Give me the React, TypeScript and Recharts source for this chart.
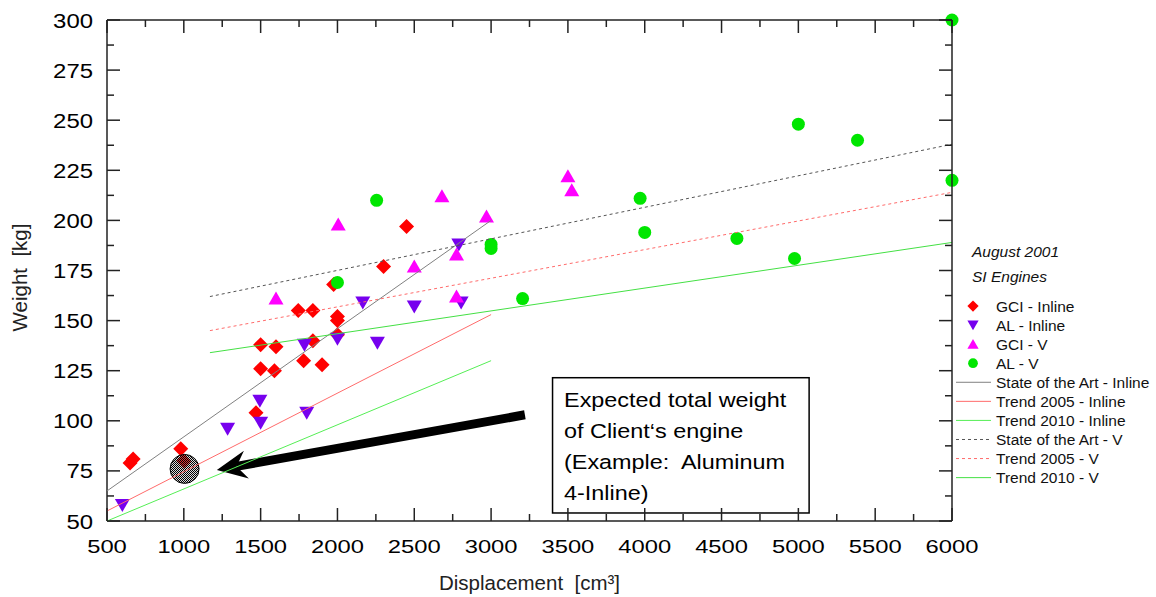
import { ScatterChart, Scatter, XAxis, YAxis, ReferenceArea, ReferenceLine, Legend, Label } from "recharts"

// displacement [cm³] -> weight [kg], SI engines, August 2001
const gciInline = [
  { x: 650, y: 79 }, { x: 670, y: 81 }, { x: 980, y: 86 }, { x: 1000, y: 80 },
  { x: 1470, y: 104 }, { x: 1500, y: 138 }, { x: 1600, y: 137 }, { x: 1500, y: 126 },
  { x: 1590, y: 125 }, { x: 1745, y: 155 }, { x: 1840, y: 155 }, { x: 1780, y: 130 },
  { x: 1840, y: 140 }, { x: 1900, y: 128 }, { x: 1975, y: 168 }, { x: 2000, y: 152 },
  { x: 2000, y: 150 }, { x: 2000, y: 143 }, { x: 2300, y: 177 }, { x: 2450, y: 197 },
]
const alInline = [
  { x: 600, y: 58 }, { x: 1285, y: 96 }, { x: 1495, y: 110 }, { x: 1500, y: 99 },
  { x: 1785, y: 138 }, { x: 1800, y: 104 }, { x: 2000, y: 141 }, { x: 2165, y: 159 },
  { x: 2260, y: 139 }, { x: 2500, y: 157 }, { x: 2790, y: 188 }, { x: 2805, y: 159 },
]
const gciV = [
  { x: 1600, y: 161 }, { x: 2005, y: 198 }, { x: 2500, y: 177 }, { x: 2680, y: 212 },
  { x: 2775, y: 183 }, { x: 2775, y: 162 }, { x: 2970, y: 202 }, { x: 3500, y: 222 },
  { x: 3525, y: 215 },
]
const alV = [
  { x: 2000, y: 169 }, { x: 2255, y: 210 }, { x: 3000, y: 188 }, { x: 3000, y: 186 },
  { x: 3205, y: 161 }, { x: 3970, y: 211 }, { x: 4000, y: 194 }, { x: 4600, y: 191 },
  { x: 4975, y: 181 }, { x: 5000, y: 248 }, { x: 5385, y: 240 }, { x: 6000, y: 300 },
  { x: 6000, y: 220 },
]
const expectedEngine = [{ x: 1005, y: 76 }]

// trend lines
const sotaInline = [{ x: 500, y: 65 }, { x: 3000, y: 200 }]
const trend2005Inline = [{ x: 500, y: 55 }, { x: 3000, y: 153 }]
const trend2010Inline = [{ x: 500, y: 50 }, { x: 3000, y: 130 }]
const sotaV = [{ x: 1170, y: 162 }, { x: 6000, y: 238 }]
const trend2005V = [{ x: 1170, y: 145 }, { x: 6000, y: 214 }]
const trend2010V = [{ x: 1170, y: 134 }, { x: 6000, y: 189 }]

// annotation
const arrowSegment = [{ x: 3220, y: 103 }, { x: 1215, y: 75.5 }]
const noteBox = { x1: 3400, x2: 5070, y1: 54, y2: 121.5 }
const noteLines = ["Expected total weight", "of Client\u2018s engine", "(Example:  Aluminum", "4-Inline)"]

const X_MIN = 500
const X_MAX = 6000
const Y_MIN = 50
const Y_MAX = 300
const xMajor = [500, 1000, 1500, 2000, 2500, 3000, 3500, 4000, 4500, 5000, 5500, 6000]
const yMajor = [50, 75, 100, 125, 150, 175, 200, 225, 250, 275, 300]
const xTicks = xMajor.flatMap((v, i) => (i ? [v - 250, v] : [v]))
const yTicks = yMajor.flatMap((v, i) => (i ? [v - 12.5, v] : [v]))

const AXIS = "#222"
const CHART_W = 1156
const CHART_H = 597
const MARGIN = { top: 20, right: 204, bottom: 0, left: 0 }
const Y_AXIS_W = 107
const X_AXIS_H = 76
const PLOT = {
  left: MARGIN.left + Y_AXIS_W,
  right: CHART_W - MARGIN.right,
  top: MARGIN.top,
  bottom: CHART_H - MARGIN.bottom - X_AXIS_H,
}

const pointSeries = [
  { name: "GCI - Inline", data: gciInline, color: "#ff0000", shape: "diamond" },
  { name: "AL - Inline", data: alInline, color: "#7700ee", shape: "down" },
  { name: "GCI - V", data: gciV, color: "#ff00ff", shape: "up" },
  { name: "AL - V", data: alV, color: "#00e600", shape: "circle" },
]
const lineSeries = [
  { name: "State of the Art - Inline", data: sotaInline, color: "#808080", dash: undefined },
  { name: "Trend 2005 - Inline", data: trend2005Inline, color: "#ff6b6b", dash: undefined },
  { name: "Trend 2010 - Inline", data: trend2010Inline, color: "#55ee55", dash: undefined },
  { name: "State of the Art - V", data: sotaV, color: "#555", dash: "3 3" },
  { name: "Trend 2005 - V", data: trend2005V, color: "#ff6b6b", dash: "3 3" },
  { name: "Trend 2010 - V", data: trend2010V, color: "#44e044", dash: undefined },
]

function marker(shape, cx, cy, fill, k = 1) {
  if (shape === "diamond") {
    const r = 7.5 * k
    return <polygon points={`${cx},${cy - r} ${cx + r},${cy} ${cx},${cy + r} ${cx - r},${cy}`} fill={fill} />
  }
  if (shape === "down") {
    return <polygon points={`${cx - 7.5 * k},${cy - 6 * k} ${cx + 7.5 * k},${cy - 6 * k} ${cx},${cy + 7 * k}`} fill={fill} />
  }
  if (shape === "up") {
    return <polygon points={`${cx},${cy - 7 * k} ${cx + 7.5 * k},${cy + 6 * k} ${cx - 7.5 * k},${cy + 6 * k}`} fill={fill} />
  }
  return <circle cx={cx} cy={cy} r={6.5 * k} fill={fill} />
}

const ExpectedMarker = ({ cx, cy }) => (
  <g>
    <defs>
      <pattern id="dither" width="2" height="2" patternUnits="userSpaceOnUse">
        <rect width="2" height="2" fill="#9a9a9a" fillOpacity={0.35} />
        <rect width="1" height="1" fill="#000" />
        <rect x="1" y="1" width="1" height="1" fill="#000" />
      </pattern>
    </defs>
    <circle cx={cx} cy={cy} r={14.5} fill="url(#dither)" stroke="#000" strokeWidth={1} />
  </g>
)

const BottomTick = ({ x, y, payload }) => {
  const major = payload.value % 500 === 0
  return (
    <g>
      <line x1={x} y1={y} x2={x} y2={y - (major ? 13 : 7)} stroke={AXIS} strokeWidth={1.5} />
      {major && (
        <text transform={`translate(${x} ${y + 32}) scale(1.25 1)`} textAnchor="middle" fontSize={19} fill="#000">
          {payload.value}
        </text>
      )}
    </g>
  )
}
const LeftTick = ({ x, y, payload }) => {
  const major = payload.value % 25 === 0
  return (
    <g>
      <line x1={x} y1={y} x2={x + (major ? 13 : 7)} y2={y} stroke={AXIS} strokeWidth={1.5} />
      {major && (
        <text transform={`translate(${x - 14} ${y + 7.5}) scale(1.14 1)`} textAnchor="end" fontSize={21} fill="#000">
          {payload.value}
        </text>
      )}
    </g>
  )
}

// top and right edges of the frame, with inward ticks, laid over the chart
const FrameOverlay = () => {
  const w = PLOT.right - PLOT.left
  const h = PLOT.bottom - PLOT.top
  return (
    <svg width={CHART_W} height={CHART_H} style={{ position: "absolute", left: 0, top: 0, pointerEvents: "none" }}>
      <line x1={PLOT.left} y1={PLOT.top} x2={PLOT.right} y2={PLOT.top} stroke={AXIS} strokeWidth={1.5} />
      <line x1={PLOT.right} y1={PLOT.top} x2={PLOT.right} y2={PLOT.bottom} stroke={AXIS} strokeWidth={1.5} />
      {xTicks.map((v) => {
        const tx = PLOT.left + ((v - X_MIN) / (X_MAX - X_MIN)) * w
        return <line key={`t${v}`} x1={tx} y1={PLOT.top} x2={tx} y2={PLOT.top + (v % 500 === 0 ? 13 : 7)} stroke={AXIS} strokeWidth={1.5} />
      })}
      {yTicks.map((v) => {
        const ty = PLOT.top + ((Y_MAX - v) / (Y_MAX - Y_MIN)) * h
        return <line key={`r${v}`} x1={PLOT.right} y1={ty} x2={PLOT.right - (v % 25 === 0 ? 13 : 7)} y2={ty} stroke={AXIS} strokeWidth={1.5} />
      })}
    </svg>
  )
}

const XTitle = ({ viewBox }) => (
  <text x={viewBox.x + viewBox.width / 2} y={viewBox.y + 69} textAnchor="middle" fontSize={20.5} fill="#222" style={{ whiteSpace: "pre" }}>
    {"Displacement  [cm³]"}
  </text>
)
const YTitle = ({ viewBox }) => {
  const cx = viewBox.x + 27
  const cy = viewBox.y + viewBox.height / 2 + 7
  return (
    <text x={cx} y={cy} transform={`rotate(-90 ${cx} ${cy})`} textAnchor="middle" fontSize={20.5} fill="#222" style={{ whiteSpace: "pre" }}>
      {"Weight  [kg]"}
    </text>
  )
}

const Arrow = ({ x1, y1, x2, y2 }) => {
  const len = Math.hypot(x2 - x1, y2 - y1)
  const ux = (x2 - x1) / len
  const uy = (y2 - y1) / len
  const nx = -uy
  const ny = ux
  const bx = x2 - ux * 30
  const by = y2 - uy * 30
  const mx = x2 - ux * 20
  const my = y2 - uy * 20
  return (
    <g>
      <line x1={x1} y1={y1} x2={mx} y2={my} stroke="#000" strokeWidth={9} />
      <polygon
        points={`${x2},${y2} ${bx + nx * 14},${by + ny * 14} ${mx},${my} ${bx - nx * 14},${by - ny * 14}`}
        fill="#000"
      />
    </g>
  )
}

const NoteBox = ({ x, y, width, height }) => (
  <g>
    <rect x={x} y={y} width={width} height={height} fill="none" stroke="#000" strokeWidth={1.5} />
    {noteLines.map((line, i) => (
      <text
        key={i}
        transform={`translate(${x + 11.5} ${y + 29.5 + i * 31}) scale(1.2 1)`}
        fontSize={19.5}
        fill="#000"
        style={{ whiteSpace: "pre" }}
      >
        {line}
      </text>
    ))}
  </g>
)

const LegendBox = () => (
  <svg width={216} height={260} style={{ display: "block", fontFamily: '"Liberation Sans", Arial, sans-serif' }}>
    <text x={32} y={26.7} fontSize={15.5} fontStyle="italic" fill="#111">August 2001</text>
    <text x={32} y={51.5} fontSize={15.5} fontStyle="italic" fill="#111">SI Engines</text>
    {pointSeries.map((s, i) => {
      const cy = 76 + i * 19.07
      return (
        <g key={s.name}>
          {marker(s.shape, 33, cy, s.color, 0.75)}
          <text x={56} y={cy + 5.5} fontSize={15.5} fill="#111">{s.name}</text>
        </g>
      )
    })}
    {lineSeries.map((s, i) => {
      const cy = 76 + (i + 4) * 19.07
      return (
        <g key={s.name}>
          <line x1={16} y1={cy} x2={51} y2={cy} stroke={s.color} strokeWidth={1} strokeDasharray={s.dash} />
          <text x={56} y={cy + 5.5} fontSize={15.5} fill="#111">{s.name}</text>
        </g>
      )
    })}
  </svg>
)

export default function App() {
  return (
    <div style={{ position: "absolute", left: 0, top: 0, width: CHART_W, height: CHART_H, background: "#fff", fontFamily: '"Liberation Sans", Arial, sans-serif' }}>
      <ScatterChart width={CHART_W} height={CHART_H} margin={MARGIN}>
        <XAxis
          dataKey="x"
          type="number"
          domain={[X_MIN, X_MAX]}
          ticks={xTicks}
          interval={0}
          height={X_AXIS_H}
          tickSize={0}
          tickMargin={0}
          tickLine={false}
          tick={BottomTick}
          axisLine={{ stroke: AXIS, strokeWidth: 1.5 }}
        >
          <Label content={XTitle} />
        </XAxis>
        <YAxis
          dataKey="y"
          type="number"
          domain={[Y_MIN, Y_MAX]}
          ticks={yTicks}
          interval={0}
          width={Y_AXIS_W}
          tickSize={0}
          tickMargin={0}
          tickLine={false}
          tick={LeftTick}
          axisLine={{ stroke: AXIS, strokeWidth: 1.5 }}
        >
          <Label content={YTitle} />
        </YAxis>

        {pointSeries.map((s) => (
          <Scatter
            key={s.name}
            name={s.name}
            data={s.data}
            fill={s.color}
            isAnimationActive={false}
            shape={(p) => marker(s.shape, p.cx, p.cy, s.color)}
          />
        ))}
        <Scatter name="Expected" data={expectedEngine} isAnimationActive={false} shape={ExpectedMarker} />
        {lineSeries.map((s) => (
          <Scatter
            key={s.name}
            name={s.name}
            data={s.data}
            fill={s.color}
            line={{ stroke: s.color, strokeWidth: 1, strokeDasharray: s.dash }}
            shape={() => <g />}
            isAnimationActive={false}
          />
        ))}

        <ReferenceArea x1={noteBox.x1} x2={noteBox.x2} y1={noteBox.y1} y2={noteBox.y2} shape={NoteBox} />
        <ReferenceLine segment={arrowSegment} shape={Arrow} />

        <Legend
          layout="vertical"
          align="center"
          verticalAlign="middle"
          width={216}
          height={260}
          wrapperStyle={{ left: 940, top: 230 }}
          content={LegendBox}
        />
      </ScatterChart>
      <FrameOverlay />
    </div>
  )
}
